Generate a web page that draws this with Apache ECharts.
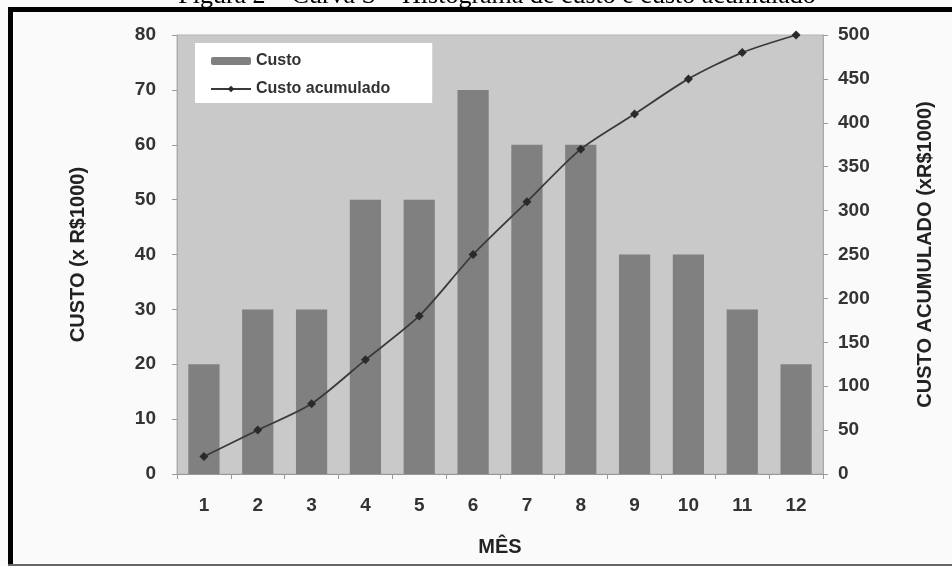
<!DOCTYPE html>
<html>
<head>
<meta charset="utf-8">
<script src="https://cdn.jsdelivr.net/npm/echarts@6/dist/echarts.min.js"></script>
<style>
html,body{margin:0;padding:0;background:#fafafa;}
#chart{width:952px;height:566px;}
</style>
</head>
<body>
<div id="chart"></div>
<script>
const months = ['1','2','3','4','5','6','7','8','9','10','11','12'];
const custo = [20, 30, 30, 50, 50, 70, 60, 60, 40, 40, 30, 20];
const custoAcumulado = [20, 50, 80, 130, 180, 250, 310, 370, 410, 450, 480, 500];
const titleText = 'Figura 2 – Curva S – Histograma de custo e custo acumulado';

const chart = echarts.init(document.getElementById('chart'));
const axisLabelStyle = {color:'#333', fontFamily:'Liberation Sans, Arial', fontSize:19, fontWeight:'bold'};
const nameStyle = {color:'#222', fontFamily:'Liberation Sans, Arial', fontSize:20, fontWeight:'bold'};
chart.setOption({
  backgroundColor:'#fafafa',
  animation:false,
  graphic:[
    {type:'text', x:497, y:9, style:{text:titleText, align:'center', verticalAlign:'bottom',
      font:'26px "Liberation Serif", "Times New Roman", serif', fill:'#000'}},
    {type:'rect', shape:{x:8, y:7, width:5, height:559}, style:{fill:'#000'}},
    {type:'rect', shape:{x:8, y:7, width:944, height:5}, style:{fill:'#000'}},
    {type:'rect', shape:{x:8, y:564, width:944, height:2}, style:{fill:'#666'}}
  ],
  grid:{left:177, right:129, top:35, bottom:92, show:true, backgroundColor:'#c9c9c9', borderColor:'#b5b5b5', borderWidth:1},
  legend:{
    left:195, top:43, orient:'vertical', backgroundColor:'#fff', borderWidth:0,
    padding:[10, 42, 6, 15], itemGap:12, itemWidth:40, itemHeight:8,
    textStyle:{color:'#333', fontFamily:'Liberation Sans, Arial', fontSize:16, fontWeight:'bold'},
    data:['Custo','Custo acumulado']
  },
  xAxis:{
    type:'category', data:months, boundaryGap:true,
    name:'MÊS', nameLocation:'middle', nameGap:63, nameTextStyle:nameStyle,
    axisLine:{lineStyle:{color:'#999'}},
    axisTick:{show:true, inside:false, length:5, lineStyle:{color:'#999'}},
    axisLabel:Object.assign({margin:22}, axisLabelStyle)
  },
  yAxis:[
    {
      type:'value', min:0, max:80, interval:10, position:'left',
      name:'CUSTO (x R$1000)', nameLocation:'middle', nameGap:89, nameRotate:90, nameTextStyle:nameStyle,
      axisLine:{show:true, lineStyle:{color:'#aaa'}},
      axisTick:{show:true, length:5, lineStyle:{color:'#999'}},
      splitLine:{show:false},
      axisLabel:Object.assign({margin:21}, axisLabelStyle)
    },
    {
      type:'value', min:0, max:500, interval:50, position:'right',
      name:'CUSTO ACUMULADO (xR$1000)', nameLocation:'middle', nameGap:92, nameRotate:90, nameTextStyle:nameStyle,
      axisLine:{show:true, lineStyle:{color:'#aaa'}},
      axisTick:{show:true, length:5, lineStyle:{color:'#999'}},
      splitLine:{show:false},
      axisLabel:Object.assign({margin:15}, axisLabelStyle)
    }
  ],
  series:[
    {
      name:'Custo', type:'bar', data:custo, yAxisIndex:0, barWidth:'58%',
      itemStyle:{color:'#808080'}
    },
    {
      name:'Custo acumulado', type:'line', data:custoAcumulado, yAxisIndex:1,
      smooth:0.25, symbol:'diamond', symbolSize:9,
      lineStyle:{color:'#3a3a3a', width:1.8},
      itemStyle:{color:'#2a2a2a'}
    }
  ]
});
</script>
</body>
</html>
